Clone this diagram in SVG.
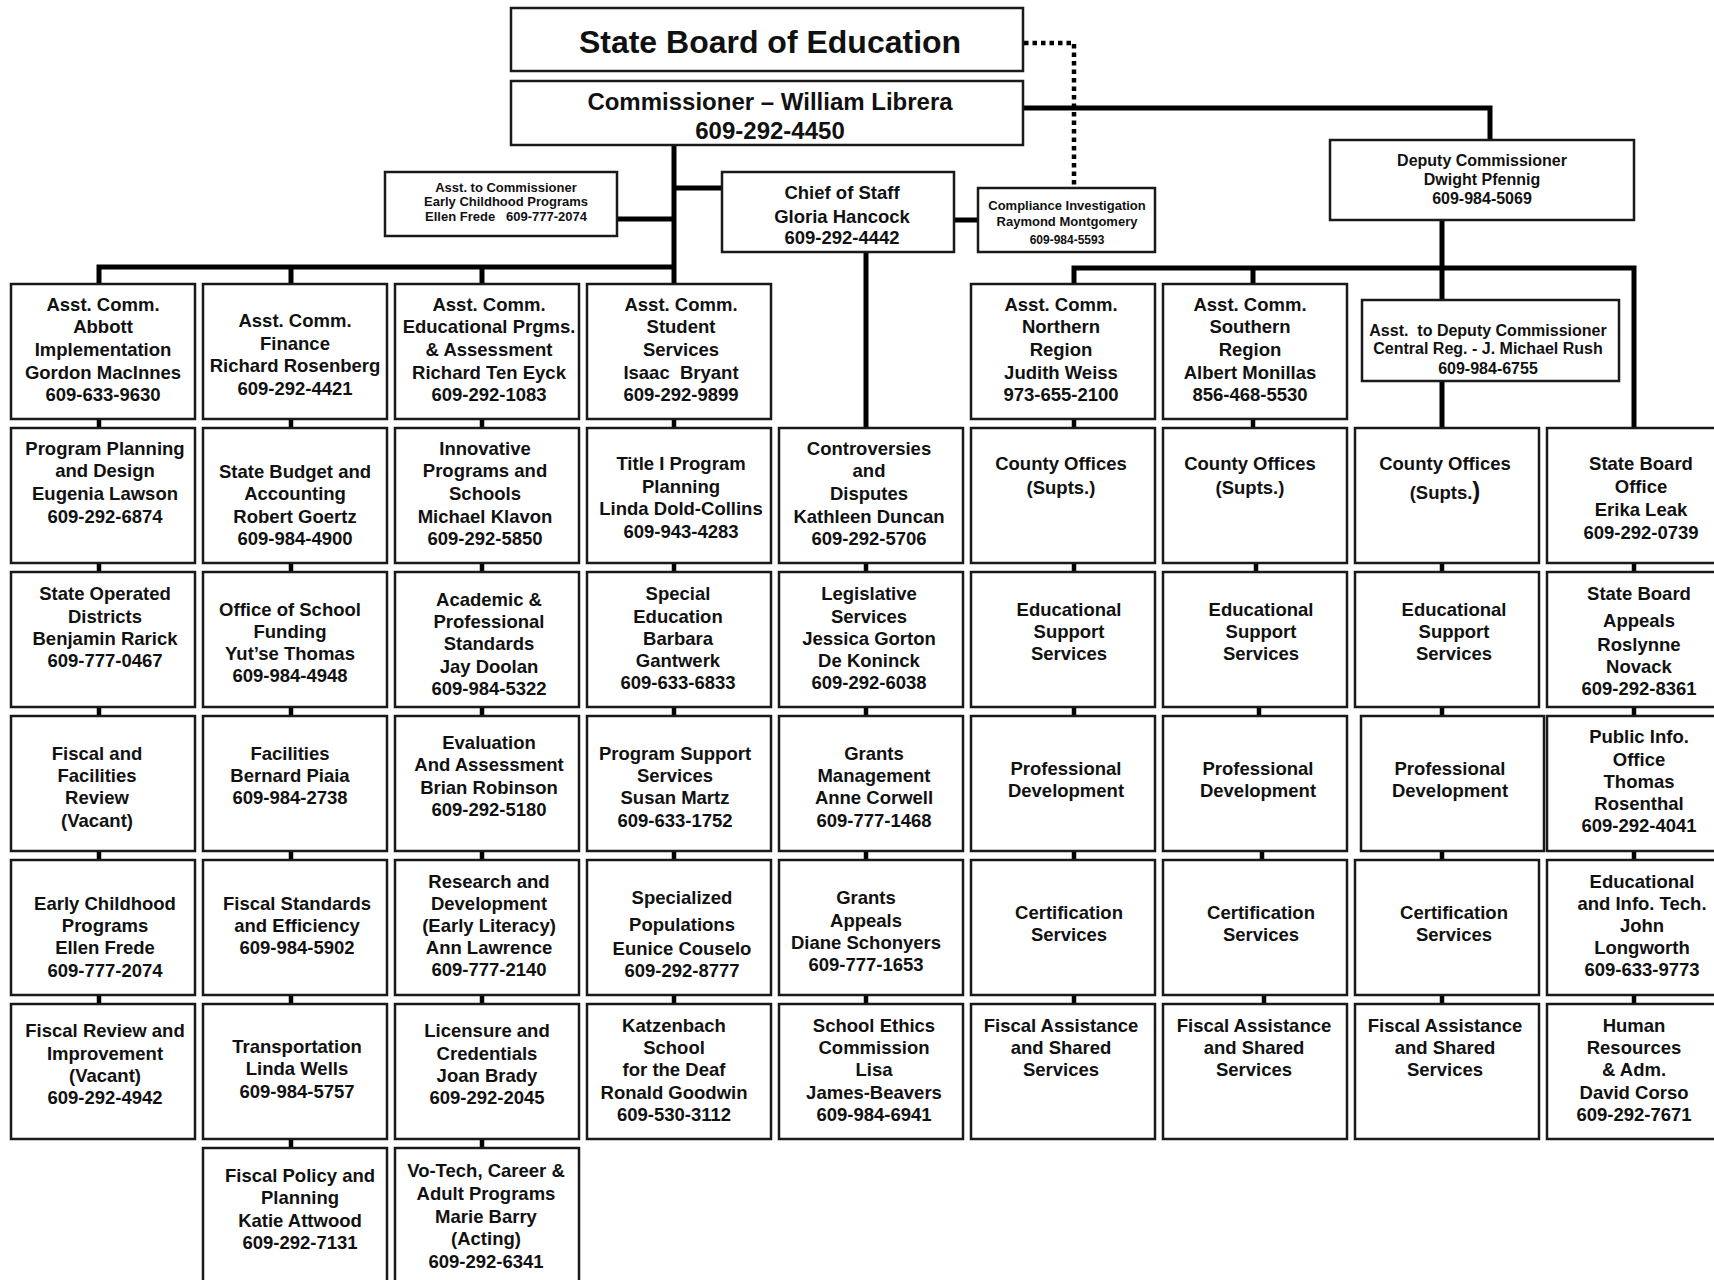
<svg xmlns="http://www.w3.org/2000/svg" width="1714" height="1280" viewBox="0 0 1714 1280">
<style>
.b{fill:#fff;stroke:#1a1a1a;stroke-width:2.5}
.t{font-family:"Liberation Sans",Arial,sans-serif;font-weight:bold;font-size:18.5px;text-anchor:middle;fill:#111}
.s13{font-size:13px}
.s16{font-size:16px}
.c{stroke:#000;stroke-width:5;fill:none;stroke-linejoin:miter}
.k{stroke:#000;stroke-width:4.5;fill:none}
.d{stroke:#000;stroke-width:4.5;fill:none;stroke-dasharray:4.5 4}
</style>
<rect width="1714" height="1280" fill="#fff"/>
<g id="connectors">
<path class="d" d="M1024 43 H1074 V187"/>
<path class="c" d="M99 284 V267 H676"/>
<path class="c" d="M291 267 V284 M482 267 V284 M674 145 V284"/>
<path class="c" d="M617 219 H674 M674 188 H722 M954 220 H978"/>
<path class="c" d="M1023 108 H1490 V140"/>
<path class="c" d="M866 252 V428"/>
<path class="c" d="M1074 284 V268 H1634 V428"/>
<path class="c" d="M1253 268 V284"/>
<path class="c" d="M1442 220 V300 M1442 381 V428"/>
<path class="k" d="M99 419 V428 M99 563 V572 M99 707 V716 M99 851 V860 M99 996 V1004"/>
<path class="k" d="M291 419 V428 M291 563 V572 M291 707 V716 M291 851 V860 M291 996 V1004 M291 1140 V1148"/>
<path class="k" d="M482 419 V428 M482 563 V572 M482 707 V716 M482 851 V860 M482 996 V1004 M482 1140 V1148"/>
<path class="k" d="M674 419 V428 M674 563 V572 M674 707 V716 M674 851 V860 M674 996 V1004"/>
<path class="k" d="M866 563 V572 M866 707 V716 M866 851 V860 M866 996 V1004"/>
<path class="k" d="M1074 419 V428 M1074 563 V572 M1074 707 V716 M1074 851 V860 M1074 996 V1004"/>
<path class="k" d="M1253 419 V428 M1256 563 V572 M1259 707 V716 M1262 851 V860 M1264 996 V1004"/>
<path class="k" d="M1442 563 V572 M1442 707 V716 M1442 851 V860 M1442 996 V1004"/>
<path class="k" d="M1634 563 V572 M1634 707 V716 M1634 851 V860 M1634 996 V1004"/>
</g>

<g id="state-board"><rect class="b" x="511" y="8" width="512" height="63"/><text class="t" x="770" y="53" style="font-size:32px">State Board of Education</text></g>
<g id="commissioner"><rect class="b" x="511" y="81" width="512" height="64"/><text class="t" x="770" y="110" style="font-size:24px"><tspan x="770">Commissioner – William Librera</tspan><tspan x="770" y="139">609-292-4450</tspan></text></g>
<g id="asst-commissioner"><rect class="b" x="385" y="172" width="232" height="64"/><text class="t s13" x="506" y="192.3" xml:space="preserve"><tspan x="506">Asst. to Commissioner</tspan><tspan x="506" y="206.3">Early Childhood Programs</tspan><tspan x="506" y="221.3">Ellen Frede   609-777-2074</tspan></text></g>
<g id="chief-of-staff"><rect class="b" x="722" y="172" width="232" height="80"/><text class="t" x="842" y="199.3"><tspan x="842">Chief of Staff</tspan><tspan x="842" y="222.6">Gloria Hancock</tspan><tspan x="842" y="244.3">609-292-4442</tspan></text></g>
<g id="compliance"><rect class="b" x="978" y="188" width="177" height="64"/><text class="t s13" x="1067" y="210.3"><tspan x="1067">Compliance Investigation</tspan><tspan x="1067" y="226.3">Raymond Montgomery</tspan><tspan x="1067" y="244.3" style="font-size:12px">609-984-5593</tspan></text></g>
<g id="deputy"><rect class="b" x="1330" y="140" width="304" height="80"/><text class="t s16" x="1482" y="165.7"><tspan x="1482">Deputy Commissioner</tspan><tspan x="1482" y="184.7">Dwight Pfennig</tspan><tspan x="1482" y="204">609-984-5069</tspan></text></g>
<g id="asst-deputy"><rect class="b" x="1362" y="300" width="257" height="81"/><text class="t s16" x="1488" y="335.7" xml:space="preserve"><tspan x="1488">Asst.  to Deputy Commissioner</tspan><tspan x="1488" y="354.4">Central Reg. - J. Michael Rush</tspan><tspan x="1488" y="374">609-984-6755</tspan></text></g>

<!-- Row 1 -->
<g id="r1c1"><rect class="b" x="11" y="284" width="184" height="135"/><text class="t" x="103" y="310.5"><tspan x="103">Asst. Comm.</tspan><tspan x="103" dy="22.7">Abbott</tspan><tspan x="103" dy="22.7">Implementation</tspan><tspan x="103" dy="22.7">Gordon MacInnes</tspan><tspan x="103" dy="22.7">609-633-9630</tspan></text></g>
<g id="r1c2"><rect class="b" x="203" y="284" width="184" height="135"/><text class="t" x="295" y="327"><tspan x="295">Asst. Comm.</tspan><tspan x="295" dy="22.7">Finance</tspan><tspan x="295" dy="22.7">Richard Rosenberg</tspan><tspan x="295" dy="22.7">609-292-4421</tspan></text></g>
<g id="r1c3"><rect class="b" x="395" y="284" width="184" height="135"/><text class="t" x="489" y="310.5"><tspan x="489">Asst. Comm.</tspan><tspan x="489" dy="22.7">Educational Prgms.</tspan><tspan x="489" dy="22.7">&amp; Assessment</tspan><tspan x="489" dy="22.7">Richard Ten Eyck</tspan><tspan x="489" dy="22.7">609-292-1083</tspan></text></g>
<g id="r1c4"><rect class="b" x="587" y="284" width="184" height="135"/><text class="t" x="681" y="310.5" xml:space="preserve"><tspan x="681">Asst. Comm.</tspan><tspan x="681" dy="22.7">Student</tspan><tspan x="681" dy="22.7">Services</tspan><tspan x="681" dy="22.7">Isaac  Bryant</tspan><tspan x="681" dy="22.7">609-292-9899</tspan></text></g>
<g id="r1c6"><rect class="b" x="971" y="284" width="184" height="135"/><text class="t" x="1061" y="310.5"><tspan x="1061">Asst. Comm.</tspan><tspan x="1061" dy="22.7">Northern</tspan><tspan x="1061" dy="22.7">Region</tspan><tspan x="1061" dy="22.7">Judith Weiss</tspan><tspan x="1061" dy="22.7">973-655-2100</tspan></text></g>
<g id="r1c7"><rect class="b" x="1163" y="284" width="184" height="135"/><text class="t" x="1250" y="310.5"><tspan x="1250">Asst. Comm.</tspan><tspan x="1250" dy="22.7">Southern</tspan><tspan x="1250" dy="22.7">Region</tspan><tspan x="1250" dy="22.7">Albert Monillas</tspan><tspan x="1250" dy="22.7">856-468-5530</tspan></text></g>

<!-- Row 2 -->
<g id="r2c1"><rect class="b" x="11" y="428" width="184" height="135"/><text class="t" x="105" y="454.8"><tspan x="105">Program Planning</tspan><tspan x="105" dy="22.6">and Design</tspan><tspan x="105" dy="22.6">Eugenia Lawson</tspan><tspan x="105" dy="22.6">609-292-6874</tspan></text></g>
<g id="r2c2"><rect class="b" x="203" y="428" width="184" height="135"/><text class="t" x="295" y="477.6"><tspan x="295">State Budget and</tspan><tspan x="295" dy="22.6">Accounting</tspan><tspan x="295" dy="22.6">Robert Goertz</tspan><tspan x="295" dy="22.6">609-984-4900</tspan></text></g>
<g id="r2c3"><rect class="b" x="395" y="428" width="184" height="135"/><text class="t" x="485" y="454.8"><tspan x="485">Innovative</tspan><tspan x="485" dy="22.6">Programs and</tspan><tspan x="485" dy="22.6">Schools</tspan><tspan x="485" dy="22.6">Michael Klavon</tspan><tspan x="485" dy="22.6">609-292-5850</tspan></text></g>
<g id="r2c4"><rect class="b" x="587" y="428" width="184" height="135"/><text class="t" x="681" y="470"><tspan x="681">Title I Program</tspan><tspan x="681" dy="22.6">Planning</tspan><tspan x="681" dy="22.6">Linda Dold-Collins</tspan><tspan x="681" dy="22.6">609-943-4283</tspan></text></g>
<g id="r2c5"><rect class="b" x="779" y="428" width="184" height="135"/><text class="t" x="869" y="454.8"><tspan x="869">Controversies</tspan><tspan x="869" dy="22.6">and</tspan><tspan x="869" dy="22.6">Disputes</tspan><tspan x="869" dy="22.6">Kathleen Duncan</tspan><tspan x="869" dy="22.6">609-292-5706</tspan></text></g>
<g id="r2c6"><rect class="b" x="971" y="428" width="184" height="135"/><text class="t" x="1061" y="470"><tspan x="1061">County Offices</tspan><tspan x="1061" dy="23.5">(Supts.)</tspan></text></g>
<g id="r2c7"><rect class="b" x="1163" y="428" width="184" height="135"/><text class="t" x="1250" y="470"><tspan x="1250">County Offices</tspan><tspan x="1250" dy="23.5">(Supts.)</tspan></text></g>
<g id="r2c8"><rect class="b" x="1355" y="428" width="184" height="135"/><text class="t" x="1445" y="470"><tspan x="1445">County Offices</tspan><tspan x="1445" y="498.6">(Supts.<tspan style="font-size:24px">)</tspan></tspan></text></g>
<g id="r2c9"><rect class="b" x="1547" y="428" width="184" height="135"/><text class="t" x="1641" y="470"><tspan x="1641">State Board</tspan><tspan x="1641" dy="23">Office</tspan><tspan x="1641" dy="23">Erika Leak</tspan><tspan x="1641" dy="23">609-292-0739</tspan></text></g>

<!-- Row 3 -->
<g id="r3c1"><rect class="b" x="11" y="572" width="184" height="135"/><text class="t" x="105" y="600.2"><tspan x="105">State Operated</tspan><tspan x="105" dy="22.3">Districts</tspan><tspan x="105" dy="22.3">Benjamin Rarick</tspan><tspan x="105" dy="22.3">609-777-0467</tspan></text></g>
<g id="r3c2"><rect class="b" x="203" y="572" width="184" height="135"/><text class="t" x="290" y="615.6"><tspan x="290">Office of School</tspan><tspan x="290" dy="22.2">Funding</tspan><tspan x="290" dy="22.2">Yut’se Thomas</tspan><tspan x="290" dy="22.2">609-984-4948</tspan></text></g>
<g id="r3c3"><rect class="b" x="395" y="572" width="184" height="135"/><text class="t" x="489" y="605.6"><tspan x="489">Academic &amp;</tspan><tspan x="489" dy="22.4">Professional</tspan><tspan x="489" dy="22.4">Standards</tspan><tspan x="489" dy="22.4">Jay Doolan</tspan><tspan x="489" dy="22.4">609-984-5322</tspan></text></g>
<g id="r3c4"><rect class="b" x="587" y="572" width="184" height="135"/><text class="t" x="678" y="600.4"><tspan x="678">Special</tspan><tspan x="678" dy="22.2">Education</tspan><tspan x="678" dy="22.2">Barbara</tspan><tspan x="678" dy="22.2">Gantwerk</tspan><tspan x="678" dy="22.2">609-633-6833</tspan></text></g>
<g id="r3c5"><rect class="b" x="779" y="572" width="184" height="135"/><text class="t" x="869" y="600.4"><tspan x="869">Legislative</tspan><tspan x="869" dy="22.2">Services</tspan><tspan x="869" dy="22.2">Jessica Gorton</tspan><tspan x="869" dy="22.2">De Koninck</tspan><tspan x="869" dy="22.2">609-292-6038</tspan></text></g>
<g id="r3c6"><rect class="b" x="971" y="572" width="184" height="135"/><text class="t" x="1069" y="615.6"><tspan x="1069">Educational</tspan><tspan x="1069" dy="22">Support</tspan><tspan x="1069" dy="22">Services</tspan></text></g>
<g id="r3c7"><rect class="b" x="1163" y="572" width="184" height="135"/><text class="t" x="1261" y="615.6"><tspan x="1261">Educational</tspan><tspan x="1261" dy="22">Support</tspan><tspan x="1261" dy="22">Services</tspan></text></g>
<g id="r3c8"><rect class="b" x="1355" y="572" width="184" height="135"/><text class="t" x="1454" y="615.6"><tspan x="1454">Educational</tspan><tspan x="1454" dy="22">Support</tspan><tspan x="1454" dy="22">Services</tspan></text></g>
<g id="r3c9"><rect class="b" x="1547" y="572" width="184" height="135"/><text class="t" x="1639" y="600.2"><tspan x="1639">State Board</tspan><tspan x="1639" y="627">Appeals</tspan><tspan x="1639" y="651">Roslynne</tspan><tspan x="1639" y="672.6">Novack</tspan><tspan x="1639" y="695">609-292-8361</tspan></text></g>

<!-- Row 4 -->
<g id="r4c1"><rect class="b" x="11" y="716" width="184" height="135"/><text class="t" x="97" y="759.6"><tspan x="97">Fiscal and</tspan><tspan x="97" dy="22.3">Facilities</tspan><tspan x="97" dy="22.3">Review</tspan><tspan x="97" dy="22.3">(Vacant)</tspan></text></g>
<g id="r4c2"><rect class="b" x="203" y="716" width="184" height="135"/><text class="t" x="290" y="759.6"><tspan x="290">Facilities</tspan><tspan x="290" dy="22.2">Bernard Piaia</tspan><tspan x="290" dy="22.2">609-984-2738</tspan></text></g>
<g id="r4c3"><rect class="b" x="395" y="716" width="184" height="135"/><text class="t" x="489" y="748.6"><tspan x="489">Evaluation</tspan><tspan x="489" dy="22.6">And Assessment</tspan><tspan x="489" dy="22.6">Brian Robinson</tspan><tspan x="489" dy="22.6">609-292-5180</tspan></text></g>
<g id="r4c4"><rect class="b" x="587" y="716" width="184" height="135"/><text class="t" x="675" y="759.6"><tspan x="675">Program Support</tspan><tspan x="675" dy="22.3">Services</tspan><tspan x="675" dy="22.3">Susan Martz</tspan><tspan x="675" dy="22.3">609-633-1752</tspan></text></g>
<g id="r4c5"><rect class="b" x="779" y="716" width="184" height="135"/><text class="t" x="874" y="759.6"><tspan x="874">Grants</tspan><tspan x="874" dy="22.3">Management</tspan><tspan x="874" dy="22.3">Anne Corwell</tspan><tspan x="874" dy="22.3">609-777-1468</tspan></text></g>
<g id="r4c6"><rect class="b" x="971" y="716" width="184" height="135"/><text class="t" x="1066" y="775"><tspan x="1066">Professional</tspan><tspan x="1066" dy="22">Development</tspan></text></g>
<g id="r4c7"><rect class="b" x="1163" y="716" width="184" height="135"/><text class="t" x="1258" y="775"><tspan x="1258">Professional</tspan><tspan x="1258" dy="22">Development</tspan></text></g>
<g id="r4c8"><rect class="b" x="1361" y="716" width="183" height="135"/><text class="t" x="1450" y="775"><tspan x="1450">Professional</tspan><tspan x="1450" dy="22">Development</tspan></text></g>
<g id="r4c9"><rect class="b" x="1547" y="716" width="184" height="135"/><text class="t" x="1639" y="743.4"><tspan x="1639">Public Info.</tspan><tspan x="1639" dy="22.2">Office</tspan><tspan x="1639" dy="22.2">Thomas</tspan><tspan x="1639" dy="22.2">Rosenthal</tspan><tspan x="1639" dy="22.2">609-292-4041</tspan></text></g>

<!-- Row 5 -->
<g id="r5c1"><rect class="b" x="11" y="860" width="184" height="135"/><text class="t" x="105" y="909.6"><tspan x="105">Early Childhood</tspan><tspan x="105" dy="22.4">Programs</tspan><tspan x="105" dy="22.4">Ellen Frede</tspan><tspan x="105" dy="22.4">609-777-2074</tspan></text></g>
<g id="r5c2"><rect class="b" x="203" y="860" width="184" height="135"/><text class="t" x="297" y="909.6"><tspan x="297">Fiscal Standards</tspan><tspan x="297" dy="22.4">and Efficiency</tspan><tspan x="297" dy="22.4">609-984-5902</tspan></text></g>
<g id="r5c3"><rect class="b" x="395" y="860" width="184" height="135"/><text class="t" x="489" y="887.6"><tspan x="489">Research and</tspan><tspan x="489" dy="22.2">Development</tspan><tspan x="489" dy="22.2">(Early Literacy)</tspan><tspan x="489" dy="22.2">Ann Lawrence</tspan><tspan x="489" dy="22.2">609-777-2140</tspan></text></g>
<g id="r5c4"><rect class="b" x="587" y="860" width="184" height="135"/><text class="t" x="682" y="904.3"><tspan x="682">Specialized</tspan><tspan x="682" y="931.3">Populations</tspan><tspan x="682" y="954.9">Eunice Couselo</tspan><tspan x="682" y="976.6">609-292-8777</tspan></text></g>
<g id="r5c5"><rect class="b" x="779" y="860" width="184" height="135"/><text class="t" x="866" y="904.3"><tspan x="866">Grants</tspan><tspan x="866" dy="22.2">Appeals</tspan><tspan x="866" dy="22.2">Diane Schonyers</tspan><tspan x="866" dy="22.2">609-777-1653</tspan></text></g>
<g id="r5c6"><rect class="b" x="971" y="860" width="184" height="135"/><text class="t" x="1069" y="919.3"><tspan x="1069">Certification</tspan><tspan x="1069" dy="22">Services</tspan></text></g>
<g id="r5c7"><rect class="b" x="1163" y="860" width="184" height="135"/><text class="t" x="1261" y="919.3"><tspan x="1261">Certification</tspan><tspan x="1261" dy="22">Services</tspan></text></g>
<g id="r5c8"><rect class="b" x="1355" y="860" width="184" height="135"/><text class="t" x="1454" y="919.3"><tspan x="1454">Certification</tspan><tspan x="1454" dy="22">Services</tspan></text></g>
<g id="r5c9"><rect class="b" x="1547" y="860" width="184" height="135"/><text class="t" x="1642" y="887.6"><tspan x="1642">Educational</tspan><tspan x="1642" dy="22.2">and Info. Tech.</tspan><tspan x="1642" dy="22.2">John</tspan><tspan x="1642" dy="22.2">Longworth</tspan><tspan x="1642" dy="22.2">609-633-9773</tspan></text></g>

<!-- Row 6 -->
<g id="r6c1"><rect class="b" x="11" y="1004" width="184" height="135"/><text class="t" x="105" y="1037.4"><tspan x="105">Fiscal Review and</tspan><tspan x="105" dy="22.3">Improvement</tspan><tspan x="105" dy="22.3">(Vacant)</tspan><tspan x="105" dy="22.3">609-292-4942</tspan></text></g>
<g id="r6c2"><rect class="b" x="203" y="1004" width="184" height="135"/><text class="t" x="297" y="1052.6"><tspan x="297">Transportation</tspan><tspan x="297" dy="22.5">Linda Wells</tspan><tspan x="297" dy="22.5">609-984-5757</tspan></text></g>
<g id="r6c3"><rect class="b" x="395" y="1004" width="184" height="135"/><text class="t" x="487" y="1037.4"><tspan x="487">Licensure and</tspan><tspan x="487" dy="22.3">Credentials</tspan><tspan x="487" dy="22.3">Joan Brady</tspan><tspan x="487" dy="22.3">609-292-2045</tspan></text></g>
<g id="r6c4"><rect class="b" x="587" y="1004" width="184" height="135"/><text class="t" x="674" y="1032"><tspan x="674">Katzenbach</tspan><tspan x="674" dy="22.2">School</tspan><tspan x="674" dy="22.2">for the Deaf</tspan><tspan x="674" dy="22.2">Ronald Goodwin</tspan><tspan x="674" dy="22.2">609-530-3112</tspan></text></g>
<g id="r6c5"><rect class="b" x="779" y="1004" width="184" height="135"/><text class="t" x="874" y="1032"><tspan x="874">School Ethics</tspan><tspan x="874" dy="22.2">Commission</tspan><tspan x="874" dy="22.2">Lisa</tspan><tspan x="874" dy="22.2">James-Beavers</tspan><tspan x="874" dy="22.2">609-984-6941</tspan></text></g>
<g id="r6c6"><rect class="b" x="971" y="1004" width="184" height="135"/><text class="t" x="1061" y="1032"><tspan x="1061">Fiscal Assistance</tspan><tspan x="1061" dy="22">and Shared</tspan><tspan x="1061" dy="22">Services</tspan></text></g>
<g id="r6c7"><rect class="b" x="1163" y="1004" width="184" height="135"/><text class="t" x="1254" y="1032"><tspan x="1254">Fiscal Assistance</tspan><tspan x="1254" dy="22">and Shared</tspan><tspan x="1254" dy="22">Services</tspan></text></g>
<g id="r6c8"><rect class="b" x="1355" y="1004" width="184" height="135"/><text class="t" x="1445" y="1032"><tspan x="1445">Fiscal Assistance</tspan><tspan x="1445" dy="22">and Shared</tspan><tspan x="1445" dy="22">Services</tspan></text></g>
<g id="r6c9"><rect class="b" x="1547" y="1004" width="184" height="135"/><text class="t" x="1634" y="1032"><tspan x="1634">Human</tspan><tspan x="1634" dy="22.2">Resources</tspan><tspan x="1634" dy="22.2">&amp; Adm.</tspan><tspan x="1634" dy="22.2">David Corso</tspan><tspan x="1634" dy="22.2">609-292-7671</tspan></text></g>

<!-- Row 7 -->
<g id="r7c2"><rect class="b" x="203" y="1148" width="184" height="145"/><text class="t" x="300" y="1181.6"><tspan x="300">Fiscal Policy and</tspan><tspan x="300" dy="22.6">Planning</tspan><tspan x="300" dy="22.6">Katie Attwood</tspan><tspan x="300" dy="22.6">609-292-7131</tspan></text></g>
<g id="r7c3"><rect class="b" x="395" y="1148" width="184" height="145"/><text class="t" x="486" y="1177.3"><tspan x="486">Vo-Tech, Career &amp;</tspan><tspan x="486" dy="22.6">Adult Programs</tspan><tspan x="486" dy="22.6">Marie Barry</tspan><tspan x="486" dy="22.6">(Acting)</tspan><tspan x="486" dy="22.6">609-292-6341</tspan></text></g>
</svg>
